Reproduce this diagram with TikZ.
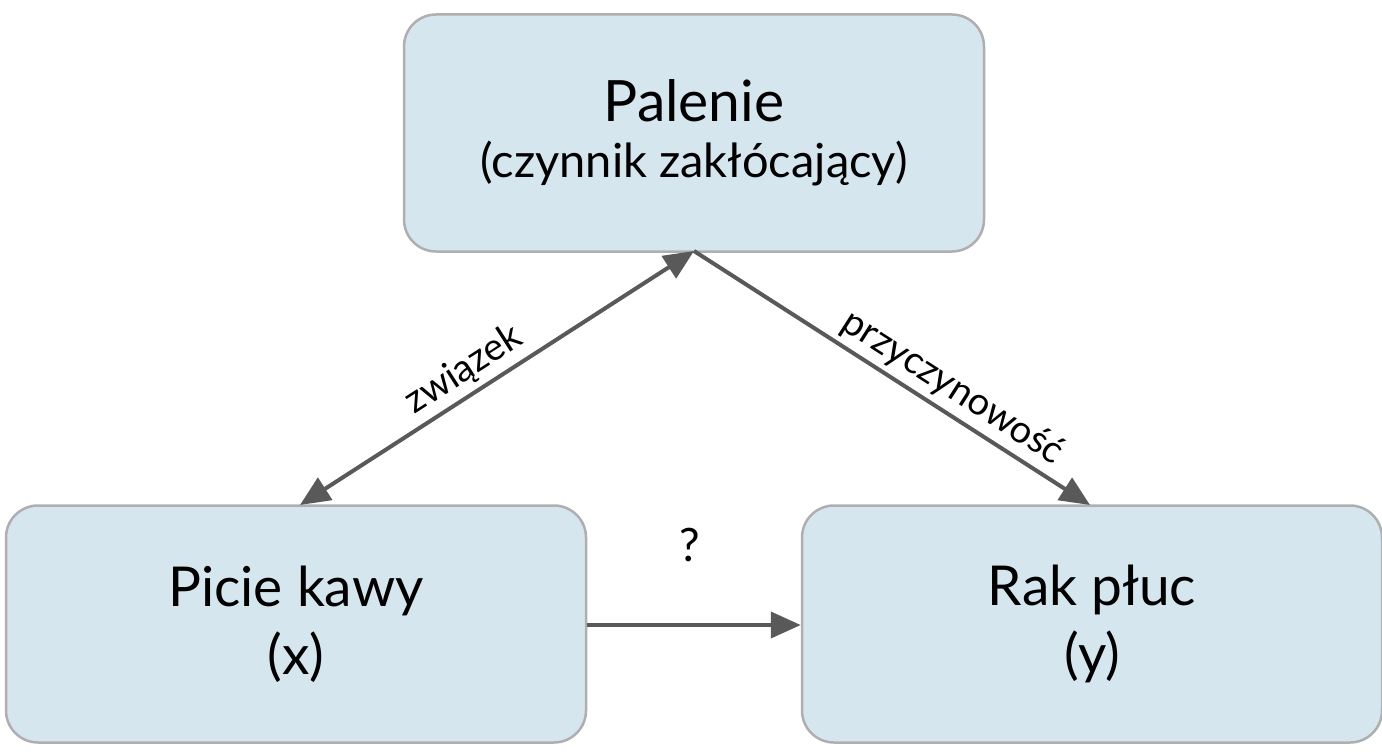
\documentclass[tikz,border=0pt]{standalone}
\usepackage{fontspec}
\setmainfont{Lato}
\usetikzlibrary{arrows.meta}
\definecolor{boxfill}{HTML}{D6E6EF}
\definecolor{boxline}{HTML}{AFAFAF}
\definecolor{arr}{HTML}{595959}
\begin{document}
\begin{tikzpicture}[x=1pt,y=-1pt,
  box/.style={draw=boxline,line width=2.5pt,fill=boxfill,rounded corners=32pt,minimum width=580pt,minimum height=237pt,align=center,inner sep=0pt},
  con/.style={draw=arr,line width=4pt,-{Triangle[length=30pt,width=26pt]}},
  lab/.style={font=\fontsize{38pt}{44pt}\selectfont}]
\useasboundingbox (0,0) rectangle (1382,752);
\node[box] (top) at (694,133) {\fontsize{57pt}{60pt}\selectfont Palenie\\[18pt]\fontsize{47pt}{50pt}\selectfont (czynnik zakłócający)};
\node[box,font=\fontsize{55pt}{60pt}\selectfont] (x) at (296,624) {Picie kawy\\[8pt] (x)};
\node[box,font=\fontsize{55pt}{60pt}\selectfont] (y) at (1092,624) {Rak płuc\\[8pt] (y)};
\coordinate (ta) at (694,251);
\coordinate (xa) at (300,505);
\coordinate (ya) at (1090,505);
\draw[con,{Triangle[length=30pt,width=26pt]}-{Triangle[length=30pt,width=26pt]}] (xa) -- node[lab,sloped,above=2pt,pos=0.45]{związek} (ta);
\draw[con] (ta) -- node[lab,sloped,above=2pt,pos=0.62]{przyczynowość} (ya);
\draw[con] (x.east |- 0,625) -- (y.west |- 0,625);
\node[font=\fontsize{46pt}{50pt}\selectfont] (q) at (690,545) {?};
\end{tikzpicture}
\end{document}
